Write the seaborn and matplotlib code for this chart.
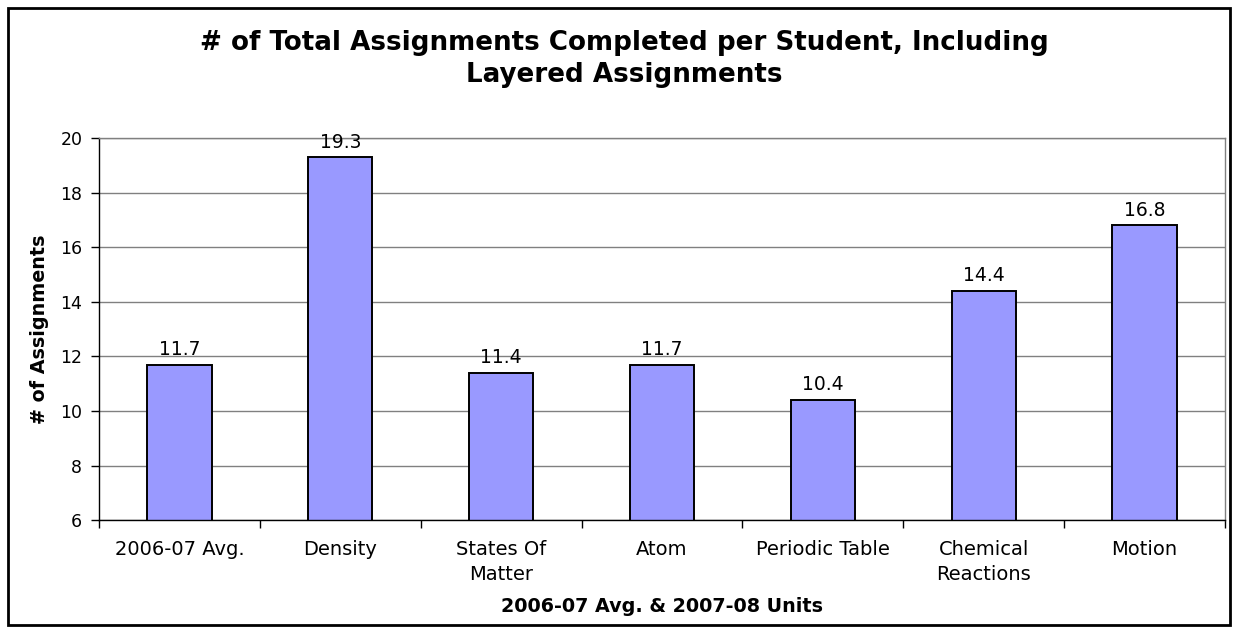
import matplotlib
matplotlib.use("Agg")
import matplotlib.pyplot as plt
import seaborn as sns
import pandas as pd
from matplotlib.patches import Rectangle

categories = ["2006-07 Avg.", "Density", "States Of\nMatter", "Atom",
              "Periodic Table", "Chemical\nReactions", "Motion"]
values = [11.7, 19.3, 11.4, 11.7, 10.4, 14.4, 16.8]
yticks = [6, 8, 10, 12, 14, 16, 18, 20]

title = "# of Total Assignments Completed per Student, Including\nLayered Assignments"
xlabel = "2006-07 Avg. & 2007-08 Units"
ylabel = "# of Assignments"

sns.set_theme(style="white")
plt.rcParams['font.family'] = ['DejaVu Sans']
plt.rcParams.update({"text.color": "black", "axes.labelcolor": "black",
                     "xtick.color": "black", "ytick.color": "black"})

df = pd.DataFrame({"cat": categories, "val": values})

fig = plt.figure(figsize=(12.38, 6.32), dpi=100)
ax = fig.add_axes([0.080, 0.177, 0.9095, 0.6046])

sns.barplot(data=df, x="cat", y="val", color="#9999FF", width=0.4,
            edgecolor="black", linewidth=1.4, saturation=1, ax=ax)

ax.set_ylim(6, 20)
ax.set_xlim(-0.5, len(categories) - 0.5)
ax.set_yticks(yticks)
ax.yaxis.grid(True, color="#808080", linewidth=1.0)
ax.set_axisbelow(True)

for c in ax.containers:
    ax.bar_label(c, labels=[f"{v:.1f}" for v in values], padding=4,
                 fontsize=13.5, color="black")

ax.tick_params(axis="y", which="major", direction="out", length=6, width=1,
               color="black", labelsize=12.5, labelcolor="black", pad=6, left=True)
ax.tick_params(axis="x", which="major", length=0, labelsize=14,
               labelcolor="black", pad=14)
ax.set_xticks([i - 0.5 for i in range(len(categories) + 1)], minor=True)
ax.tick_params(axis="x", which="minor", direction="out", length=6, width=1,
               color="black", bottom=True)
for lab in ax.get_xticklabels():
    lab.set_linespacing(1.45)

for s in ["left", "bottom"]:
    ax.spines[s].set_color("black")
    ax.spines[s].set_linewidth(1)
for s in ["top", "right"]:
    ax.spines[s].set_color("#808080")
    ax.spines[s].set_linewidth(1)
    ax.spines[s].set_visible(True)

ax.set_xlabel(xlabel, fontsize=13.8, fontweight="bold", labelpad=9, color="black")
ax.set_ylabel(ylabel, fontsize=13.8, fontweight="bold", labelpad=8, color="black")

fig.text(624 / 1238, 1 - 59 / 632, title, ha="center", va="center", fontsize=18.8,
         fontweight="bold", linespacing=1.25, color="black")

fig.patches.append(Rectangle((8 / 1238, 7 / 632), 1222 / 1238, 617 / 632,
                             transform=fig.transFigure, fill=False,
                             edgecolor="black", linewidth=2, zorder=10))

fig.savefig("out.png", dpi=100)
